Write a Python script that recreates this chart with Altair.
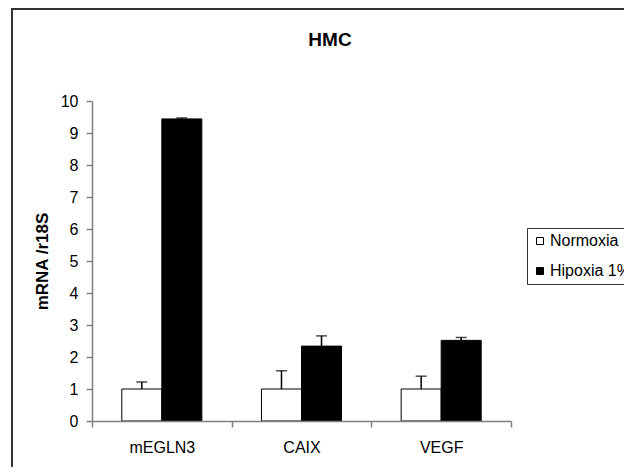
import altair as alt
import pandas as pd

genes = ["mEGLN3", "CAIX", "VEGF"]
conditions = ["Normoxia", "Hipoxia 1%"]
normoxia = [1.0, 1.0, 1.0]
normoxia_err = [0.22, 0.57, 0.40]
hipoxia = [9.44, 2.34, 2.52]
hipoxia_err = [0.03, 0.32, 0.09]
y_ticks = [0, 1, 2, 3, 4, 5, 6, 7, 8, 9, 10]
chart_title = "HMC"

rows = []
for i, g in enumerate(genes):
    rows.append({"gene": g, "cond": conditions[0], "value": normoxia[i], "top": normoxia[i] + normoxia_err[i]})
    rows.append({"gene": g, "cond": conditions[1], "value": hipoxia[i], "top": hipoxia[i] + hipoxia_err[i]})
df = pd.DataFrame(rows)

FONT = "Liberation Sans"
W, H = 419, 320
AXC = "#808080"

yscale = alt.Scale(domain=[0, 10], nice=False)
xscale = alt.Scale(paddingInner=0, paddingOuter=0)

xaxis = alt.Axis(title=None, tickBand="extent", labelAngle=0, labelFontSize=16,
                 labelFont=FONT, labelColor="black", labelPadding=12,
                 domainColor=AXC, tickColor=AXC, tickSize=6,
                 domainWidth=1.5, tickWidth=1.5, zindex=1)
yaxis = alt.Axis(title="mRNA /r18S", values=y_ticks, grid=False, labelOverlap=False,
                 labelFontSize=16, labelFont=FONT, labelColor="black", labelPadding=8,
                 titleFont=FONT, titleFontSize=17, titleFontWeight="bold",
                 titleColor="black", titlePadding=9,
                 domainColor=AXC, tickColor=AXC, tickSize=6,
                 domainWidth=1.5, tickWidth=1.5, zindex=1)

xs = alt.X("gene:N", sort=genes, scale=xscale, axis=xaxis)
xo = alt.XOffset("cond:N", sort=conditions, scale=alt.Scale(paddingInner=0, paddingOuter=0.745))

base = alt.Chart(df)
one = alt.Chart(pd.DataFrame({"t": [chart_title]}))

frame = one.mark_rect(filled=False, stroke="#333333", strokeWidth=2).encode(
    x=alt.value(-80), x2=alt.value(700), y=alt.value(-92), y2=alt.value(600))

title = one.mark_text(font=FONT, fontSize=19, fontWeight="bold", color="black",
                      align="center", baseline="alphabetic").encode(
    text="t:N", x=alt.value(238), y=alt.value(-55))

bars = base.mark_bar(stroke="black", strokeWidth=1).encode(
    x=xs, xOffset=xo,
    y=alt.Y("value:Q", scale=yscale, axis=yaxis),
    fill=alt.Fill("cond:N", sort=conditions,
                  scale=alt.Scale(domain=conditions, range=["white", "black"]),
                  legend=alt.Legend(title=None, orient="none", legendX=435, legendY=127,
                                    symbolType="square", symbolSize=49,
                                    symbolStrokeColor="black", symbolStrokeWidth=1,
                                    labelFont=FONT, labelFontSize=16, labelColor="black",
                                    labelOffset=2, rowPadding=14, padding=5,
                                    strokeColor="#333333", fillColor="white")),
)

err = base.mark_rule(color="black", strokeWidth=1.5).encode(
    x=xs, xOffset=xo,
    y=alt.Y("value:Q", scale=yscale, axis=yaxis), y2="top:Q")
caps = base.mark_tick(color="black", thickness=1.5, size=11, orient="horizontal").encode(
    x=xs, xOffset=xo, y=alt.Y("top:Q", scale=yscale, axis=yaxis))

chart = alt.layer(frame, title, bars, err, caps).properties(
    width=W, height=H,
    padding={"left": 84, "top": 93, "right": 113, "bottom": 46},
    autosize="none",
    background="white",
).configure_view(stroke="transparent")

chart.save("out.html", embed_options={"renderer": "svg", "actions": False})
